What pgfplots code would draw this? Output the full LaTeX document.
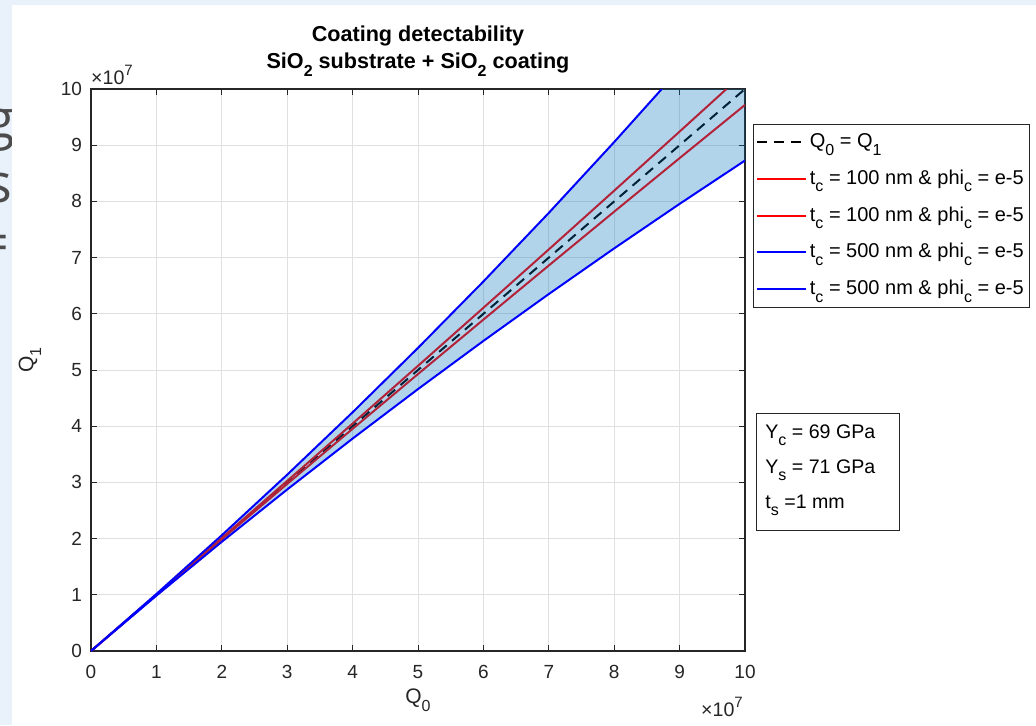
\documentclass[border=0pt]{standalone}
\usepackage{pgfplots}
\pgfplotsset{compat=1.18}
\usepackage{fontspec}
\setmainfont{Liberation Sans}
\newfontfamily\slidefont{Open Sans}
\definecolor{txt}{RGB}{38,38,38}
\definecolor{gridc}{RGB}{224,224,224}
\definecolor{matblue}{RGB}{0,114,189}
\definecolor{pagebg}{RGB}{233,242,251}
\newcommand{\sub}[1]{\raisebox{-0.7ex}{\fontsize{8}{8}\selectfont #1}}
\newcommand{\sups}[1]{\raisebox{0.9ex}{\fontsize{7.5}{8}\selectfont #1}}

\begin{document}
\begin{tikzpicture}
% page background (axis origin at (0,0); 1 px = 0.5 pt)
\fill[pagebg] (-45.5pt,325.5pt) rectangle (472.5pt,-37pt);
\node[anchor=base east, inner sep=0pt, text=black!70, font=\slidefont\fontsize{27}{30}\selectfont] at (-38pt,256.5pt) {ng};
\node[anchor=base east, inner sep=0pt, text=black!70, font=\slidefont\fontsize{27}{30}\selectfont] at (-39pt,224.5pt) {s};
\node[anchor=base east, inner sep=0pt, text=black!70, font=\slidefont\fontsize{27}{30}\selectfont] at (-40.5pt,195pt) {=};
\fill[white] (-39.5pt,323pt) rectangle (472.5pt,-37pt);

\begin{axis}[
  at={(0,0)}, anchor=south west,
  scale only axis, width=327pt, height=281pt,
  xmin=0, xmax=10, ymin=0, ymax=10,
  xtick={0,1,...,10}, ytick={0,1,...,10},
  grid=major, major grid style={gridc, line width=0.5pt},
  axis line style={txt, line width=0.6pt},
  tick style={txt, line width=0.5pt},
  tick align=inside, major tick length=3pt,
  tick label style={font=\fontsize{9.5}{11}\selectfont, text=txt},
  /pgf/number format/assume math mode=true,
  xticklabel style={yshift=-3.8pt},
  yticklabel style={xshift=-1pt},
  title={Coating detectability\\SiO\sub{2} substrate + SiO\sub{2} coating},
  title style={at={(axis description cs:0.5,1.046)}, anchor=center, align=center,
    font=\bfseries\fontsize{10.8}{13.5}\selectfont, text=black},
  xlabel={Q\sub{0}},
  xlabel style={at={(axis description cs:0.5,-0.0872)}, anchor=center,
    font=\fontsize{10.5}{12}\selectfont, text=txt},
  ylabel={Q\sub{1}},
  ylabel style={at={(axis description cs:-0.0933,0.518)}, anchor=center, rotate=0,
    font=\fontsize{10.5}{12}\selectfont, text=txt},
  legend cell align=left,
  legend style={at={(axis description cs:1.0122,0.9377)}, anchor=north west,
    draw=txt, line width=0.5pt, fill=white,
    font=\fontsize{10}{12}\selectfont, text=black,
    row sep=7.2pt, inner xsep=1.5pt, inner ysep=3.5pt,
    nodes={inner sep=1.2pt},
    /tikz/every even column/.append style={column sep=2pt}},
  legend image code/.code={\draw[#1] (0pt,0pt) -- (24.5pt,0pt);},
]
\addplot[black, line width=1pt, dash pattern=on 5pt off 3.5pt] coordinates {(0,0) (10,10)};
\addlegendentry{Q\sub{0} = Q\sub{1}}
\addplot[red, line width=1pt] coordinates {
 (0,0) (1,1.00292) (2,2.01173) (3,3.02647) (4,4.04720) (5,5.07397)
 (6,6.10683) (7,7.14583) (8,8.19105) (9,9.24251) (9.7167,10)};
\addlegendentry{t\sub{c} = 100 nm \& phi\sub{c} = e-5}
\addplot[red, line width=1pt] coordinates {
 (0,0) (1,0.99709) (2,1.98841) (3,2.97399) (4,3.95389) (5,4.92816)
 (6,5.89685) (7,6.85999) (8,7.81774) (9,8.76993) (10,9.71671)};
\addlegendentry{t\sub{c} = 100 nm \& phi\sub{c} = e-5}
\addplot[draw=none, fill=matblue, fill opacity=0.3, forget plot] coordinates {
 (0,0) (1,1.01480) (2,2.06007) (3,3.13722) (4,4.24773) (5,5.39316)
 (6,6.57520) (7,7.79562) (8,9.05633) (8.7275,10) (10,10)
 (10,8.72753) (9,7.95601) (8,7.16435) (7,6.35174) (6,5.51734) (5,4.66027)
 (4,3.77958) (3,2.87428) (2,1.94333) (1,0.98563) (0,0)} \closedcycle;
\addplot[blue, line width=1pt] coordinates {
 (0,0) (1,1.01480) (2,2.06007) (3,3.13722) (4,4.24773) (5,5.39316)
 (6,6.57520) (7,7.79562) (8,9.05633) (8.7275,10)};
\addlegendentry{t\sub{c} = 500 nm \& phi\sub{c} = e-5}
\addplot[blue, line width=1pt] coordinates {
 (0,0) (1,0.98563) (2,1.94333) (3,2.87428) (4,3.77958) (5,4.66027)
 (6,5.51734) (7,6.35174) (8,7.16435) (9,7.95601) (10,8.72753)};
\addlegendentry{t\sub{c} = 500 nm \& phi\sub{c} = e-5}
\end{axis}

\begin{scope}[x=0.5pt,y=-0.5pt,shift={(-45.5pt,325.5pt)}]
  \node[anchor=center, inner sep=0pt, text=txt, font=\fontsize{9.8}{11}\selectfont] at (722,707) {×10\sups{7}};
  \node[anchor=center, inner sep=0pt, text=txt, font=\fontsize{9.8}{11}\selectfont] at (112,75) {×10\sups{7}};
  \draw[txt, line width=0.5pt, fill=white] (756,413) rectangle (899,530);
  \begin{scope}[every node/.style={anchor=west, inner sep=0pt, text=black, font=\fontsize{9.8}{12}\selectfont}]
    \node at (765,435) {Y\sub{c} = 69 GPa};
    \node at (765,470) {Y\sub{s} = 71 GPa};
    \node at (765,505) {t\sub{s} =1 mm};
  \end{scope}
\end{scope}
\pgfresetboundingbox
\path[use as bounding box] (-45.5pt,325.5pt) rectangle (472.5pt,-37pt);
\end{tikzpicture}
\end{document}
